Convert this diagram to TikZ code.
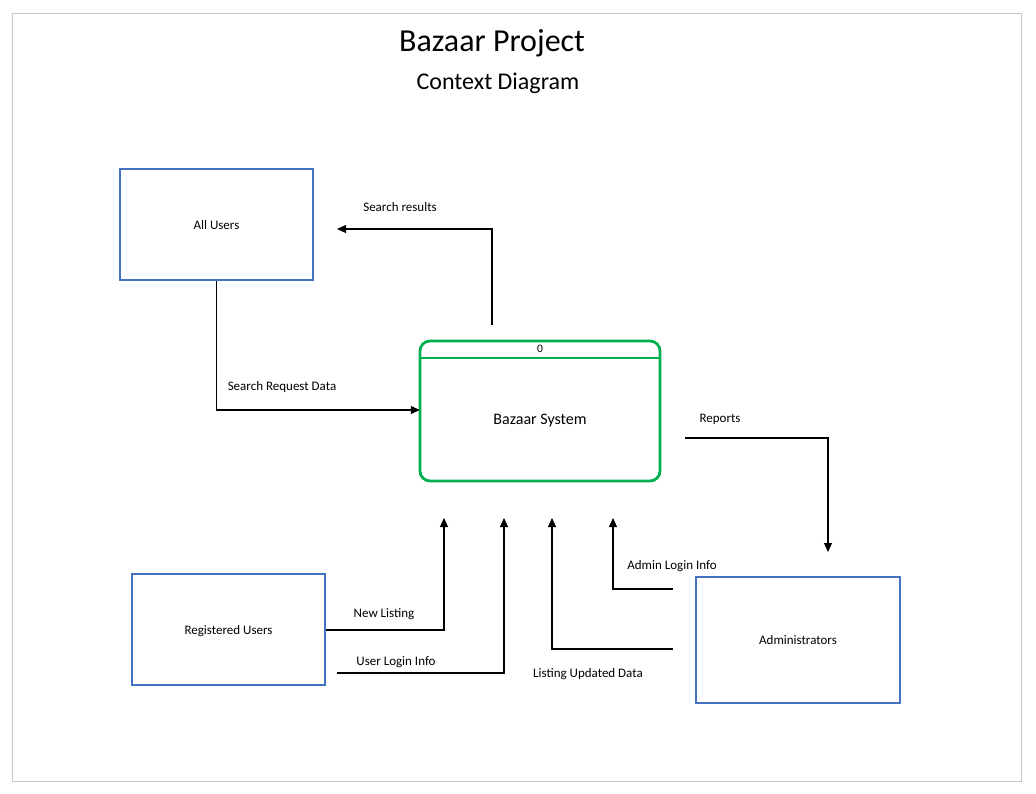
\documentclass[tikz,border=0pt]{standalone}
\usepackage{fontspec}
\setmainfont{Carlito}
\usetikzlibrary{arrows.meta}
\definecolor{entblue}{HTML}{4472C4}
\definecolor{procgreen}{HTML}{00B050}
\definecolor{framegray}{HTML}{C8C8C8}
\begin{document}
\begin{tikzpicture}[x=1pt,y=-1pt,
  entity/.style={draw=entblue,line width=2.4pt,minimum width=193pt,minimum height=111pt,inner sep=0pt,font=\fontsize{13}{15}\selectfont,text depth=-3pt},
  flow/.style={draw=black,line width=1.1pt,-{Triangle[length=9pt,width=8pt]}},
  lbl/.style={font=\fontsize{13}{15}\selectfont,inner sep=0pt}]
\useasboundingbox (0,0) rectangle (1036,794);
\draw[framegray,line width=0.8pt] (12,13) rectangle (1021,781);
\node[font=\fontsize{32}{36}\selectfont] (title) at (492,43) {Bazaar Project};
\node[font=\fontsize{24}{28}\selectfont] (sub) at (498,83) {Context Diagram};
% entities
\node[entity] (all) at (216.5,224.5) {All Users};
\node[entity] (reg) at (228.5,629.5) {Registered Users};
\node[entity,minimum width=204pt,minimum height=126pt] (adm) at (798,640) {Administrators};
% process
\draw[procgreen,line width=2.8pt,rounded corners=10pt] (420,341) rectangle (660,481);
\node[inner sep=0pt,minimum width=240pt,minimum height=140pt] (sys) at (540,411) {};
\draw[procgreen,line width=2.8pt] (420,358) -- (660,358);
\node[lbl,font=\fontsize{11.5}{13}\selectfont] (zero) at (540,349) {0};
\node[font=\fontsize{16}{18}\selectfont] (sysl) at (540,421) {Bazaar System};
% coordinates
\coordinate (sr0) at (492,325);
\coordinate (sr1) at (337,229);
\coordinate (rp0) at (685,438);
\coordinate (rp1) at (828,552);
\coordinate (nl1) at (444,518);
\coordinate (ul0) at (337,673);
\coordinate (ul1) at (504,518);
\coordinate (lu0) at (673,649);
\coordinate (lu1) at (552,518);
\coordinate (al0) at (673,589);
\coordinate (al1) at (613,518);
% flows
\draw[flow] (sr0) |- (sr1);
\node[lbl] at (400,207) {Search results};
\draw[flow] (all.south) |- (sys.west |- 0,410);
\node[lbl] at (282,387) {Search Request Data};
\draw[flow] (rp0) -| (rp1);
\node[lbl] at (720,419) {Reports};
\draw[flow] (reg.east |- 0,630) -| (nl1);
\node[lbl] at (384,614) {New Listing};
\draw[flow] (ul0) -| (ul1);
\node[lbl] at (396,662) {User Login Info};
\draw[flow] (lu0) -| (lu1);
\node[lbl] at (588,674) {Listing Updated Data};
\draw[flow] (al0) -| (al1);
\node[lbl] at (672,566) {Admin Login Info};
\end{tikzpicture}
\end{document}
